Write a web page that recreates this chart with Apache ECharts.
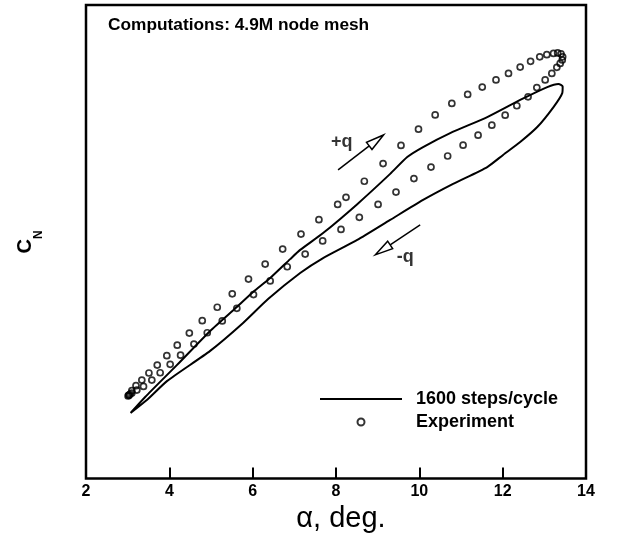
<!DOCTYPE html>
<html>
<head>
<meta charset="utf-8">
<script src="https://cdn.jsdelivr.net/npm/echarts@6/dist/echarts.min.js"></script>
<style>
  html, body { margin: 0; padding: 0; background: #fff; }
  #chart { width: 623px; height: 535px; }
</style>
</head>
<body>
<div id="chart"></div>
<script>
// Computed normal-force hysteresis loop (1600 steps/cycle)
const cfdAlpha = [3.07,3.42,4.18,4.98,5.62,6.01,6.42,6.90,7.14,7.69,8.51,9.30,9.71,10.09,10.74,11.63,12.42,13.07,13.34,13.44,13.43,13.22,12.83,12.42,12.01,11.63,10.81,10.09,9.30,8.51,7.69,7.14,6.37,5.77,4.98,3.95,3.46,3.07];
const cfdCN    = [0.249,0.310,0.431,0.561,0.652,0.709,0.762,0.834,0.869,0.933,1.043,1.158,1.222,1.260,1.313,1.374,1.439,1.488,1.500,1.490,1.465,1.412,1.336,1.279,1.230,1.184,1.120,1.059,0.983,0.907,0.838,0.781,0.682,0.591,0.485,0.371,0.298,0.249];

// Measured values over one pitching cycle
const expAlpha = [3.03,3.06,3.10,3.20,3.34,3.51,3.71,3.94,4.19,4.48,4.79,5.15,5.51,5.90,6.30,6.72,7.16,7.59,8.04,8.24,8.68,9.13,9.56,9.98,10.38,10.78,11.16,11.51,11.84,12.14,12.42,12.67,12.89,13.06,13.22,13.32,13.40,13.44,13.43,13.38,13.30,13.18,13.02,12.82,12.61,12.34,12.06,11.74,11.41,11.05,10.68,10.28,9.87,9.44,9.01,8.56,8.12,7.68,7.26,6.83,6.42,6.02,5.62,5.27,4.91,4.59,4.27,4.02,3.78,3.58,3.38,3.22,3.10,3.03,3.01];
const expCN    = [0.317,0.321,0.334,0.353,0.374,0.401,0.431,0.467,0.507,0.553,0.600,0.651,0.702,0.758,0.815,0.872,0.929,0.984,1.042,1.069,1.130,1.197,1.266,1.328,1.382,1.426,1.460,1.488,1.515,1.540,1.564,1.586,1.603,1.611,1.616,1.618,1.614,1.603,1.591,1.578,1.563,1.540,1.515,1.486,1.451,1.417,1.381,1.343,1.305,1.267,1.226,1.184,1.140,1.089,1.042,0.993,0.947,0.903,0.853,0.805,0.751,0.699,0.647,0.599,0.554,0.511,0.469,0.434,0.402,0.374,0.350,0.336,0.325,0.316,0.314];

// Axis ticks
const xTicks = [2, 4, 6, 8, 10, 12, 14];

// Pitch-direction annotations: arrows [x0, y0, x1, y1] and their labels
const pitchArrows = [[8.05, 1.173, 9.14, 1.306], [10.02, 0.964, 8.94, 0.850]];
const pitchLabels = ['+q', '-q'];
const pitchLabelPos = [[8.14, 1.280], [9.66, 0.843]];

const seriesNames = ['1600 steps/cycle', 'Experiment'];
const titleText = 'Computations: 4.9M node mesh';

const FONT = '"Liberation Sans", Arial, Helvetica, sans-serif';

const cfdData = cfdAlpha.map((a, i) => [a, cfdCN[i]]);
const expData = expAlpha.map((a, i) => [a, expCN[i]]);
const labelData = pitchLabels.map((t, i) => ({ name: t, value: pitchLabelPos[i] }));

function renderArrow(params, api) {
  const p0 = api.coord([api.value(0), api.value(1)]);
  const p1 = api.coord([api.value(2), api.value(3)]);
  const dx = p1[0] - p0[0], dy = p1[1] - p0[1];
  const len = Math.hypot(dx, dy);
  const ux = dx / len, uy = dy / len;
  const headLen = 18, headHalf = 4.5;
  const bx = p1[0] - ux * headLen, by = p1[1] - uy * headLen;
  const nx = -uy, ny = ux;
  return {
    type: 'group',
    children: [
      { type: 'line', shape: { x1: p0[0], y1: p0[1], x2: bx, y2: by },
        style: { stroke: '#000', lineWidth: 1.5 } },
      { type: 'polygon',
        shape: { points: [[p1[0], p1[1]], [bx + nx * headHalf, by + ny * headHalf], [bx - nx * headHalf, by - ny * headHalf]] },
        style: { fill: '#fff', stroke: '#000', lineWidth: 1.5 } }
    ]
  };
}

const chart = echarts.init(document.getElementById('chart'), null, { renderer: 'canvas' });
chart.setOption({
  animation: false,
  backgroundColor: '#fff',
  title: {
    text: titleText,
    left: 108, top: 17, padding: 0,
    textStyle: { fontFamily: FONT, fontWeight: 'bold', fontSize: 17.3, color: '#000' }
  },
  legend: {
    data: [
      { name: seriesNames[0], icon: 'path://M0,0H80V2H0Z' },
      { name: seriesNames[1] }
    ],
    orient: 'vertical',
    left: 315, top: 385,
    itemWidth: 82, itemHeight: 7, itemGap: 5,
    selectedMode: false,
    textStyle: { fontFamily: FONT, fontWeight: 'bold', fontSize: 18, color: '#000', padding: [0, 0, 0, 9] }
  },
  grid: {
    left: 86, right: 37, top: 5, bottom: 56.5,
    outerBoundsMode: 'none',
    show: true, borderColor: '#000', borderWidth: 2.5, backgroundColor: 'transparent'
  },
  xAxis: {
    type: 'value', min: xTicks[0], max: xTicks[xTicks.length - 1], interval: 2,
    name: 'α, deg.', nameLocation: 'middle', nameGap: 23,
    nameTextStyle: { fontFamily: FONT, fontSize: 29, color: '#000', padding: [0, 0, 0, 10] },
    axisLine: { show: false },
    axisTick: { show: true, inside: true, length: 11, lineStyle: { color: '#000', width: 2 } },
    axisLabel: { fontFamily: FONT, fontWeight: 'bold', fontSize: 16, color: '#000', margin: 5 },
    splitLine: { show: false }
  },
  yAxis: {
    type: 'value', min: 0, max: 1.8,
    name: '{c|C}{n|N}{s| }', nameLocation: 'middle', nameGap: 41, nameRotate: 90,
    nameTextStyle: {
      color: '#000',
      rich: {
        c: { fontFamily: FONT, fontWeight: 'bold', fontSize: 20, lineHeight: 20, verticalAlign: 'top', color: '#000' },
        n: { fontFamily: FONT, fontWeight: 'bold', fontSize: 12, lineHeight: 12, verticalAlign: 'bottom', color: '#000' },
        s: { fontSize: 1, lineHeight: 30 }
      }
    },
    axisLine: { show: false },
    axisTick: { show: false },
    axisLabel: { show: false },
    splitLine: { show: false }
  },
  series: [
    {
      name: seriesNames[0], type: 'line', data: cfdData,
      symbol: 'none', showSymbol: false, smooth: 0.2,
      lineStyle: { color: '#000', width: 2 },
      itemStyle: { color: '#000' },
      z: 2
    },
    {
      name: seriesNames[1], type: 'scatter', data: expData,
      symbol: 'circle', symbolSize: 6,
      itemStyle: { color: 'rgba(255,255,255,0)', borderColor: '#000', borderWidth: 1.7 },
      z: 3
    },
    {
      name: 'pitch arrows', type: 'custom', data: pitchArrows,
      encode: { x: [0, 2], y: [1, 3] },
      renderItem: renderArrow, silent: true, z: 4
    },
    {
      name: 'pitch labels', type: 'scatter', data: labelData,
      symbol: 'circle', symbolSize: 1,
      itemStyle: { color: 'rgba(0,0,0,0)' },
      label: { show: true, position: 'inside', formatter: '{b}',
               fontFamily: FONT, fontWeight: 'bold', fontSize: 18, color: '#000' },
      silent: true, z: 4
    }
  ]
});
</script>
</body>
</html>
